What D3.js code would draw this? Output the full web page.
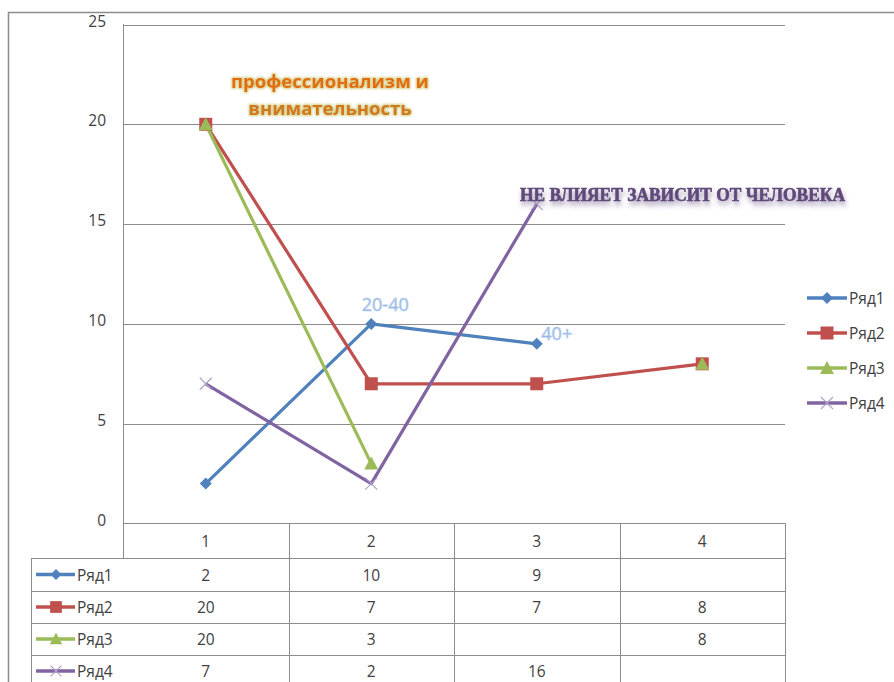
<!DOCTYPE html>
<html><head><meta charset="utf-8">
<script src="https://cdn.jsdelivr.net/npm/d3@7"></script>
<style>html,body{margin:0;padding:0;background:#fff;overflow:hidden}</style>
</head><body>
<svg id="c" width="894" height="682"></svg>
<script>
const categories = ["1","2","3","4"];
const seriesNames = ["Ряд1","Ряд2","Ряд3","Ряд4"];
const row1 = [2,10,9,null];
const row2 = [20,7,7,8];
const row3 = [20,3,null,8];
const row4 = [7,2,16,null];
const yTicks = [0,5,10,15,20,25];
const colors = ["#4F81BD","#C0504D","#9BBB59","#8064A2"];
const markers = ["diamond","square","triangle","x"];
const pointLabels = [{s:0,i:1,text:"20-40"},{s:0,i:2,text:"40+"}];
const allSeries = [row1,row2,row3,row4];

const svg = d3.select("#c");
const font = "'Open Sans', 'Noto Sans', sans-serif";
const fs = 15.5;
const txt = "#404040";
const grid = "#8c8c8c";

const defs = svg.append("defs");
const f1 = defs.append("filter").attr("id","glowO").attr("x","-20%").attr("y","-50%").attr("width","140%").attr("height","200%");
f1.append("feMorphology").attr("in","SourceAlpha").attr("operator","dilate").attr("radius",1.2).attr("result","d");
f1.append("feGaussianBlur").attr("in","d").attr("stdDeviation",1.2).attr("result","b");
f1.append("feFlood").attr("flood-color","#c9c26a").attr("flood-opacity",0.8);
f1.append("feComposite").attr("in2","b").attr("operator","in").attr("result","g");
const m1 = f1.append("feMerge"); m1.append("feMergeNode").attr("in","g"); m1.append("feMergeNode").attr("in","SourceGraphic");
const f2 = defs.append("filter").attr("id","shadowP").attr("x","-10%").attr("y","-60%").attr("width","120%").attr("height","240%");
f2.append("feGaussianBlur").attr("in","SourceAlpha").attr("stdDeviation",2.5).attr("result","b");
f2.append("feOffset").attr("in","b").attr("dx",1).attr("dy",4).attr("result","o");
f2.append("feFlood").attr("flood-color","#5f497a").attr("flood-opacity",0.55);
f2.append("feComposite").attr("in2","o").attr("operator","in").attr("result","s");
const m2 = f2.append("feMerge"); m2.append("feMergeNode").attr("in","s"); m2.append("feMergeNode").attr("in","SourceGraphic");

// chart area border
svg.append("rect").attr("x",8.5).attr("y",12.5).attr("width",1000).attr("height",800)
  .attr("fill","#fff").attr("stroke","#8c8c8c").attr("stroke-width",1.5);

const x = d3.scaleBand().domain(categories).range([123,785]);
const y = d3.scaleLinear().domain([0,25]).range([523.5,24.5]);

// gridlines
svg.append("g").selectAll("line").data(yTicks.filter(d=>d>0)).join("line")
  .attr("x1",123).attr("x2",785).attr("y1",d=>Math.round(y(d))+0.5).attr("y2",d=>Math.round(y(d))+0.5)
  .attr("stroke",grid).attr("stroke-width",1);

// y axis via d3 axis (labels only)
const yAxis = svg.append("g").attr("transform","translate(123,0)")
  .call(d3.axisLeft(y).tickValues(yTicks).tickSize(0).tickPadding(17));
yAxis.select(".domain").remove();
yAxis.selectAll("text").attr("font-family",font).attr("font-size",fs).attr("fill",txt).attr("dy","0.1em");
svg.append("line").attr("x1",123.5).attr("x2",123.5).attr("y1",24).attr("y2",558).attr("stroke",grid);

// table
const rowTop = [523,558,591,623,655,687];
const colEdges = [123].concat(categories.map(c=>x(c)+x.bandwidth()));
const tbl = svg.append("g");
tbl.append("line").attr("x1",123).attr("x2",785).attr("y1",523.5).attr("y2",523.5).attr("stroke",grid);
tbl.selectAll("line.h").data(rowTop.slice(1)).join("line").attr("class","h")
  .attr("x1",31).attr("x2",785).attr("y1",d=>d+0.5).attr("y2",d=>d+0.5).attr("stroke",grid);
tbl.selectAll("line.v").data(colEdges.slice(1)).join("line").attr("class","v")
  .attr("x1",d=>Math.round(d)+0.5).attr("x2",d=>Math.round(d)+0.5).attr("y1",523).attr("y2",700).attr("stroke",grid);
tbl.append("line").attr("x1",31.5).attr("x2",31.5).attr("y1",558).attr("y2",700).attr("stroke",grid);
tbl.selectAll("text.hd").data(categories).join("text").attr("class","hd")
  .attr("x",d=>x(d)+x.bandwidth()/2).attr("y",(rowTop[0]+rowTop[1])/2)
  .attr("text-anchor","middle").attr("dominant-baseline","central")
  .attr("font-family",font).attr("font-size",fs).attr("fill",txt).text(d=>d);

function marker(g, type, cx, cy, color, scale){
  scale = scale||1;
  if(type==="diamond"){
    const s=6*scale;
    g.append("path").attr("d",`M${cx},${cy-s}L${cx+s},${cy}L${cx},${cy+s}L${cx-s},${cy}Z`).attr("fill",color);
  } else if(type==="square"){
    const s=6.5*scale;
    g.append("rect").attr("x",cx-s).attr("y",cy-s).attr("width",2*s).attr("height",2*s).attr("fill",color);
  } else if(type==="triangle"){
    const s=7*scale;
    g.append("path").attr("d",`M${cx},${cy-s}L${cx+s},${cy+s*0.85}L${cx-s},${cy+s*0.85}Z`).attr("fill",color);
  } else {
    const s=6*scale;
    g.append("path").attr("d",`M${cx-s},${cy-s}L${cx+s},${cy+s}M${cx-s},${cy+s}L${cx+s},${cy-s}`)
      .attr("stroke","#b3a2c7").attr("stroke-width",1.2).attr("fill","none");
  }
}

allSeries.forEach((vals,si)=>{
  const cy = (rowTop[si+1]+rowTop[si+2])/2;
  const g = tbl.append("g");
  g.append("line").attr("x1",36).attr("x2",75).attr("y1",cy).attr("y2",cy).attr("stroke",colors[si]).attr("stroke-width",3.5);
  marker(g, markers[si], 56, cy, colors[si], 0.9);
  g.append("text").attr("x",77).attr("y",cy).attr("dominant-baseline","central")
    .attr("font-family",font).attr("font-size",fs).attr("fill",txt).text(seriesNames[si]);
  g.selectAll("text.v").data(vals.map((v,i)=>({v,i})).filter(d=>d.v!==null)).join("text").attr("class","v")
    .attr("x",d=>x(categories[d.i])+x.bandwidth()/2).attr("y",cy)
    .attr("text-anchor","middle").attr("dominant-baseline","central")
    .attr("font-family",font).attr("font-size",fs).attr("fill",txt).text(d=>d.v);
});

const line = d3.line().defined(d=>d.v!==null)
  .x(d=>x(categories[d.i])+x.bandwidth()/2).y(d=>y(d.v));
allSeries.forEach((vals,si)=>{
  const data = vals.map((v,i)=>({v,i}));
  svg.append("path").datum(data).attr("d",line).attr("fill","none")
    .attr("stroke",colors[si]).attr("stroke-width",3.2).attr("stroke-linejoin","round");
});
allSeries.forEach((vals,si)=>{
  const g = svg.append("g");
  vals.forEach((v,i)=>{ if(v!==null) marker(g, markers[si], x(categories[i])+x.bandwidth()/2, y(v), colors[si]); });
});

svg.selectAll("text.pl").data(pointLabels).join("text").attr("class","pl")
  .attr("x",d=>x(categories[d.i])+x.bandwidth()/2 + (d.i===1?14:20))
  .attr("y",d=>y(allSeries[d.s][d.i]) - (d.i===1?13:4))
  .attr("text-anchor","middle").attr("font-family",font).attr("font-size",18)
  .attr("fill","#8db4e2").attr("stroke","#b8cfee").attr("stroke-width",0.7).text(d=>d.text);

const lg = svg.append("g");
seriesNames.forEach((n,si)=>{
  const cy = 298 + si*35;
  lg.append("line").attr("x1",807).attr("x2",847).attr("y1",cy).attr("y2",cy).attr("stroke",colors[si]).attr("stroke-width",3.5);
  marker(lg, markers[si], 827, cy, colors[si]);
  lg.append("text").attr("x",849).attr("y",cy).attr("dominant-baseline","central")
    .attr("font-family",font).attr("font-size",fs).attr("fill",txt).text(n);
});

function fitText(sel, target){
  const w = sel.node().getComputedTextLength();
  const f = +sel.attr("font-size");
  sel.attr("font-size", f*target/w);
}
const a1 = svg.append("text").attr("x",330).attr("y",88).attr("text-anchor","middle")
  .attr("font-family",font).attr("font-weight","bold").attr("font-size",18)
  .attr("fill","#e36c0a").attr("filter","url(#glowO)").text("профессионализм и");
fitText(a1, 198);
const a2 = svg.append("text").attr("x",330).attr("y",115).attr("text-anchor","middle")
  .attr("font-family",font).attr("font-weight","bold").attr("font-size",+a1.attr("font-size"))
  .attr("fill","#d2781e").attr("filter","url(#glowO)").text("внимательность");
svg.append("text").attr("x",520).attr("y",201)
  .attr("font-family","'Liberation Serif', 'DejaVu Serif', serif").attr("font-weight","bold").attr("font-size",18)
  .attr("textLength",325).attr("lengthAdjust","spacingAndGlyphs")
  .attr("fill","#5f497a").attr("stroke","#5f497a").attr("stroke-width",0.6)
  .attr("filter","url(#shadowP)").text("НЕ ВЛИЯЕТ ЗАВИСИТ ОТ ЧЕЛОВЕКА");
</script>
</body></html>
